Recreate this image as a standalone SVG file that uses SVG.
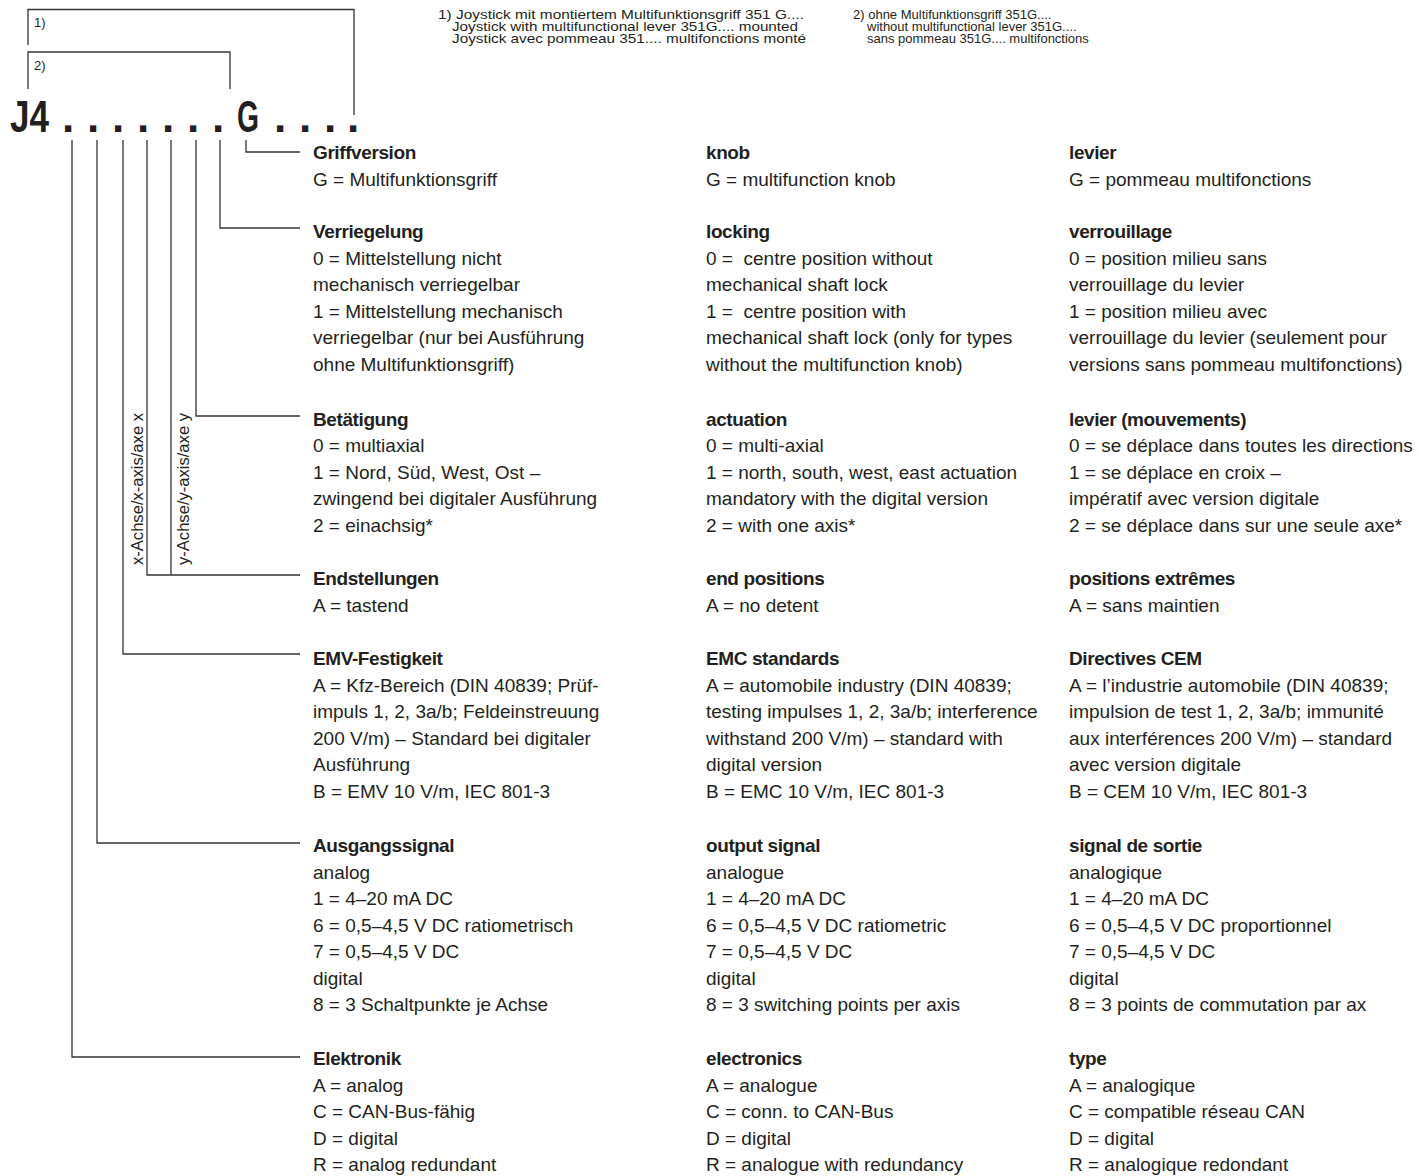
<svg xmlns="http://www.w3.org/2000/svg" width="1419" height="1176" viewBox="0 0 1419 1176">
<style>
.t{font-family:"Liberation Sans",Arial,sans-serif;font-size:19px;fill:#231f20}
.h{font-weight:bold;letter-spacing:-0.4px}
.n{font-family:"Liberation Sans",Arial,sans-serif;font-size:13px;fill:#231f20}
.code{font-family:"Liberation Sans",Arial,sans-serif;font-weight:bold;font-size:44px;fill:#231f20}
.ax{font-family:"Liberation Sans",Arial,sans-serif;font-size:16px;fill:#231f20}
.c{fill:none;stroke:#333;stroke-width:1.3}
</style>
<rect width="1419" height="1176" fill="#fff"/>

<g id="connectors">
<polyline class="c" points="28,45 28,9.5 354,9.5 354,115"/>
<polyline class="c" points="28,89 28,52 230,52 230,89"/>
<polyline class="c" points="246,140 246,152 300,152"/>
<polyline class="c" points="220,140 220,228 300,228"/>
<polyline class="c" points="196,140 196,416 300,416"/>
<polyline class="c" points="171,140 171,575"/>
<polyline class="c" points="147,140 147,575 300,575"/>
<polyline class="c" points="123,140 123,654 300,654"/>
<polyline class="c" points="97,140 97,843 300,843"/>
<polyline class="c" points="72,140 72,1057 300,1057"/>
</g>

<g id="code">
<text class="n" x="34" y="27">1)</text>
<text class="n" x="34" y="70">2)</text>
<text class="code" x="10" y="132" textLength="39" lengthAdjust="spacingAndGlyphs">J4</text>
<text class="code" x="62 87 112 137 162 187 212" y="132">.......</text>
<text class="code" x="237" y="132" textLength="22" lengthAdjust="spacingAndGlyphs">G</text>
<text class="code" x="274 299 324 347" y="132">....</text>
</g>

<g id="notes">
<text class="n" x="438" y="19" textLength="366" lengthAdjust="spacingAndGlyphs">1) Joystick mit montiertem Multifunktionsgriff 351 G....</text>
<text class="n" x="452" y="31" textLength="346" lengthAdjust="spacingAndGlyphs">Joystick with multifunctional lever 351G.... mounted</text>
<text class="n" x="452" y="43" textLength="354" lengthAdjust="spacingAndGlyphs">Joystick avec pommeau 351.... multifonctions monté</text>
<text class="n" x="853" y="19">2) ohne Multifunktionsgriff 351G....</text>
<text class="n" x="867" y="31">without multifunctional lever 351G....</text>
<text class="n" x="867" y="43">sans pommeau 351G.... multifonctions</text>
</g>

<g id="axis-labels">
<text class="ax" transform="translate(143,565) rotate(-90)" textLength="152" lengthAdjust="spacingAndGlyphs">x-Achse/x-axis/axe x</text>
<text class="ax" transform="translate(189,565) rotate(-90)" textLength="152" lengthAdjust="spacingAndGlyphs">y-Achse/y-axis/axe y</text>
</g>

<g id="node-griffversion">
<text class="t" y="159"><tspan class="h" x="313">Griffversion</tspan><tspan x="313" dy="26.5">G = Multifunktionsgriff</tspan></text>
<text class="t" y="159"><tspan class="h" x="706">knob</tspan><tspan x="706" dy="26.5">G = multifunction knob</tspan></text>
<text class="t" y="159"><tspan class="h" x="1069">levier</tspan><tspan x="1069" dy="26.5">G = pommeau multifonctions</tspan></text>
</g>

<g id="node-verriegelung">
<text class="t" y="238"><tspan class="h" x="313">Verriegelung</tspan><tspan x="313" dy="26.5">0 = Mittelstellung nicht</tspan><tspan x="313" dy="26.5">mechanisch verriegelbar</tspan><tspan x="313" dy="26.5">1 = Mittelstellung mechanisch</tspan><tspan x="313" dy="26.5">verriegelbar (nur bei Ausführung</tspan><tspan x="313" dy="26.5">ohne Multifunktionsgriff)</tspan></text>
<text class="t" y="238"><tspan class="h" x="706">locking</tspan><tspan x="706" dy="26.5">0 = &#160;centre position without</tspan><tspan x="706" dy="26.5">mechanical shaft lock</tspan><tspan x="706" dy="26.5">1 = &#160;centre position with</tspan><tspan x="706" dy="26.5">mechanical shaft lock (only for types</tspan><tspan x="706" dy="26.5">without the multifunction knob)</tspan></text>
<text class="t" y="238"><tspan class="h" x="1069">verrouillage</tspan><tspan x="1069" dy="26.5">0 = position milieu sans</tspan><tspan x="1069" dy="26.5">verrouillage du levier</tspan><tspan x="1069" dy="26.5">1 = position milieu avec</tspan><tspan x="1069" dy="26.5">verrouillage du levier (seulement pour</tspan><tspan x="1069" dy="26.5">versions sans pommeau multifonctions)</tspan></text>
</g>

<g id="node-betaetigung">
<text class="t" y="425.5"><tspan class="h" x="313">Betätigung</tspan><tspan x="313" dy="26.5">0 = multiaxial</tspan><tspan x="313" dy="26.5">1 = Nord, Süd, West, Ost –</tspan><tspan x="313" dy="26.5">zwingend bei digitaler Ausführung</tspan><tspan x="313" dy="26.5">2 = einachsig*</tspan></text>
<text class="t" y="425.5"><tspan class="h" x="706">actuation</tspan><tspan x="706" dy="26.5">0 = multi-axial</tspan><tspan x="706" dy="26.5">1 = north, south, west, east actuation</tspan><tspan x="706" dy="26.5">mandatory with the digital version</tspan><tspan x="706" dy="26.5">2 = with one axis*</tspan></text>
<text class="t" y="425.5"><tspan class="h" x="1069">levier (mouvements)</tspan><tspan x="1069" dy="26.5">0 = se déplace dans toutes les directions</tspan><tspan x="1069" dy="26.5">1 = se déplace en croix –</tspan><tspan x="1069" dy="26.5">impératif avec version digitale</tspan><tspan x="1069" dy="26.5">2 = se déplace dans sur une seule axe*</tspan></text>
</g>

<g id="node-endstellungen">
<text class="t" y="585"><tspan class="h" x="313">Endstellungen</tspan><tspan x="313" dy="26.5">A = tastend</tspan></text>
<text class="t" y="585"><tspan class="h" x="706">end positions</tspan><tspan x="706" dy="26.5">A = no detent</tspan></text>
<text class="t" y="585"><tspan class="h" x="1069">positions extrêmes</tspan><tspan x="1069" dy="26.5">A = sans maintien</tspan></text>
</g>

<g id="node-emv">
<text class="t" y="665"><tspan class="h" x="313">EMV-Festigkeit</tspan><tspan x="313" dy="26.5">A = Kfz-Bereich (DIN 40839; Prüf-</tspan><tspan x="313" dy="26.5">impuls 1, 2, 3a/b; Feldeinstreuung</tspan><tspan x="313" dy="26.5">200 V/m) – Standard bei digitaler</tspan><tspan x="313" dy="26.5">Ausführung</tspan><tspan x="313" dy="26.5">B = EMV 10 V/m, IEC 801-3</tspan></text>
<text class="t" y="665"><tspan class="h" x="706">EMC standards</tspan><tspan x="706" dy="26.5">A = automobile industry (DIN 40839;</tspan><tspan x="706" dy="26.5">testing impulses 1, 2, 3a/b; interference</tspan><tspan x="706" dy="26.5">withstand 200 V/m) – standard with</tspan><tspan x="706" dy="26.5">digital version</tspan><tspan x="706" dy="26.5">B = EMC 10 V/m, IEC 801-3</tspan></text>
<text class="t" y="665"><tspan class="h" x="1069">Directives CEM</tspan><tspan x="1069" dy="26.5">A = l’industrie automobile (DIN 40839;</tspan><tspan x="1069" dy="26.5">impulsion de test 1, 2, 3a/b; immunité</tspan><tspan x="1069" dy="26.5">aux interférences 200 V/m) – standard</tspan><tspan x="1069" dy="26.5">avec version digitale</tspan><tspan x="1069" dy="26.5">B = CEM 10 V/m, IEC 801-3</tspan></text>
</g>

<g id="node-ausgangssignal">
<text class="t" y="852"><tspan class="h" x="313">Ausgangssignal</tspan><tspan x="313" dy="26.5">analog</tspan><tspan x="313" dy="26.5">1 = 4–20 mA DC</tspan><tspan x="313" dy="26.5">6 = 0,5–4,5 V DC ratiometrisch</tspan><tspan x="313" dy="26.5">7 = 0,5–4,5 V DC</tspan><tspan x="313" dy="26.5">digital</tspan><tspan x="313" dy="26.5">8 = 3 Schaltpunkte je Achse</tspan></text>
<text class="t" y="852"><tspan class="h" x="706">output signal</tspan><tspan x="706" dy="26.5">analogue</tspan><tspan x="706" dy="26.5">1 = 4–20 mA DC</tspan><tspan x="706" dy="26.5">6 = 0,5–4,5 V DC ratiometric</tspan><tspan x="706" dy="26.5">7 = 0,5–4,5 V DC</tspan><tspan x="706" dy="26.5">digital</tspan><tspan x="706" dy="26.5">8 = 3 switching points per axis</tspan></text>
<text class="t" y="852"><tspan class="h" x="1069">signal de sortie</tspan><tspan x="1069" dy="26.5">analogique</tspan><tspan x="1069" dy="26.5">1 = 4–20 mA DC</tspan><tspan x="1069" dy="26.5">6 = 0,5–4,5 V DC proportionnel</tspan><tspan x="1069" dy="26.5">7 = 0,5–4,5 V DC</tspan><tspan x="1069" dy="26.5">digital</tspan><tspan x="1069" dy="26.5">8 = 3 points de commutation par ax</tspan></text>
</g>

<g id="node-elektronik">
<text class="t" y="1065"><tspan class="h" x="313">Elektronik</tspan><tspan x="313" dy="26.5">A = analog</tspan><tspan x="313" dy="26.5">C = CAN-Bus-fähig</tspan><tspan x="313" dy="26.5">D = digital</tspan><tspan x="313" dy="26.5">R = analog redundant</tspan></text>
<text class="t" y="1065"><tspan class="h" x="706">electronics</tspan><tspan x="706" dy="26.5">A = analogue</tspan><tspan x="706" dy="26.5">C = conn. to CAN-Bus</tspan><tspan x="706" dy="26.5">D = digital</tspan><tspan x="706" dy="26.5">R = analogue with redundancy</tspan></text>
<text class="t" y="1065"><tspan class="h" x="1069">type</tspan><tspan x="1069" dy="26.5">A = analogique</tspan><tspan x="1069" dy="26.5">C = compatible réseau CAN</tspan><tspan x="1069" dy="26.5">D = digital</tspan><tspan x="1069" dy="26.5">R = analogique redondant</tspan></text>
</g>
</svg>
